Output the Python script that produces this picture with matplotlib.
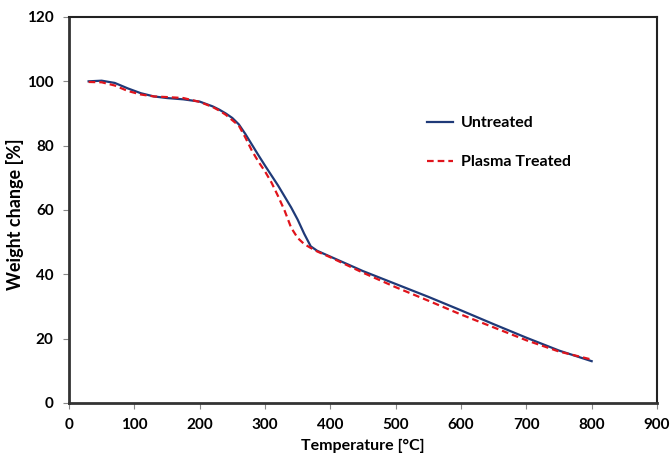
import matplotlib
matplotlib.use('Agg')
import matplotlib.pyplot as plt

# TGA weight loss curves
temp_c = [30, 50, 70, 90, 110, 130, 150, 175, 200, 220, 230, 240, 250, 260,
          270, 280, 290, 300, 310, 320, 330, 340, 350, 360, 370, 380, 400,
          450, 500, 550, 600, 650, 700, 750, 800]
untreated = [100.0, 100.2, 99.5, 97.8, 96.3, 95.3, 94.8, 94.4, 93.7, 92.2,
             91.2, 90.0, 88.6, 86.6, 83.6, 80.3, 77.0, 73.8, 70.7, 67.6,
             64.2, 60.8, 57.0, 52.6, 48.7, 47.3, 45.5,
             41.0, 37.0, 33.0, 28.8, 24.5, 20.3, 16.3, 13.0]
plasma_treated = [99.8, 99.7, 98.7, 97.0, 95.9, 95.3, 95.1, 94.8, 93.6, 92.0,
                  90.9, 89.6, 87.9, 86.2, 82.5, 78.4, 75.0, 72.0, 68.5, 64.3,
                  59.8, 54.5, 51.3, 49.4, 48.2, 47.1, 45.3,
                  40.5, 36.0, 31.8, 27.5, 23.5, 19.5, 16.0, 13.5]

x_ticks = list(range(0, 901, 100))
y_ticks = list(range(0, 121, 20))

plt.rcParams['font.family'] = ['Lato', 'DejaVu Sans']
plt.rcParams['font.weight'] = 'bold'

fig = plt.figure(figsize=(6.7, 4.53), dpi=100)
ax = fig.add_axes([0.103, 0.1104, 0.8776, 0.8521])

ax.plot(temp_c, untreated, color='#1f3a78', linewidth=1.6, label='Untreated')
ax.plot(temp_c, plasma_treated, color='#e0141c', linewidth=1.6,
        linestyle=(0, (3, 1.8)), label='Plasma Treated')

ax.set_xlim(0, 900)
ax.set_ylim(0, 120)
ax.set_xticks(x_ticks)
ax.set_yticks(y_ticks)
ax.tick_params(direction='out', length=4, width=0.8, color='#888888',
               labelsize=11, pad=7)
for lab in ax.get_xticklabels() + ax.get_yticklabels():
    lab.set_fontweight('bold')

for side in ['left', 'bottom']:
    ax.spines[side].set_linewidth(2.0)
    ax.spines[side].set_color('#333333')
for side in ['top', 'right']:
    ax.spines[side].set_linewidth(1.5)
    ax.spines[side].set_color('#222222')

ax.set_xlabel('Temperature [°C]', fontsize=11.5, fontweight='bold', labelpad=5)
ax.set_ylabel('Weight change [%]', fontsize=13, fontweight='bold')
ax.yaxis.set_label_coords(-0.077, 0.49)

ax.legend(loc='upper left', bbox_to_anchor=(0.585, 0.78), frameon=False,
          handlelength=1.6, handletextpad=0.5, labelspacing=1.55,
          prop={'weight': 'bold', 'size': 11.5})

fig.savefig('out.png', dpi=100)
